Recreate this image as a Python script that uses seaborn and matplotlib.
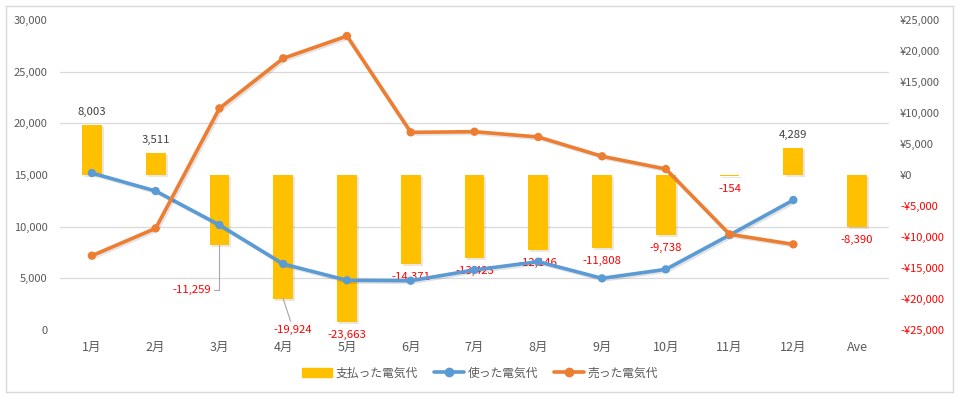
import numpy as np
import pandas as pd
import matplotlib
matplotlib.use('Agg')
import matplotlib.pyplot as plt
import matplotlib.patheffects as pe
from matplotlib.patches import Rectangle, Patch
from matplotlib.lines import Line2D
import seaborn as sns

# chart data
months = ['1月', '2月', '3月', '4月', '5月', '6月', '7月', '8月', '9月', '10月', '11月', '12月', 'Ave']
paid = [8003, 3511, -11259, -19924, -23663, -14371, -13423, -12146, -11808, -9738, -154, 4289, -8390]
used = [15190, 13450, 10160, 6390, 4810, 4770, 5810, 6610, 5000, 5870, 9190, 12580]
sold = [7190, 9840, 21450, 26290, 28450, 19130, 19190, 18680, 16810, 15580, 9260, 8290]
left_ticks = [0, 5000, 10000, 15000, 20000, 25000, 30000]
right_ticks = [-25000, -20000, -15000, -10000, -5000, 0, 5000, 10000, 15000, 20000, 25000]
series_names = ['支払った電気代', '使った電気代', '売った電気代']

BAR_C = '#FFC000'
BLUE = '#5B9BD5'
ORANGE = '#ED7D31'
GREY = '#595959'
RED = '#FF0000'

sns.set_theme(style='white')
plt.rcParams['font.family'] = ['Noto Sans CJK JP', 'DejaVu Sans']

fig = plt.figure(figsize=(9.6, 4), dpi=100)
ax = fig.add_axes([60 / 960, 70 / 400, 829 / 960, 310 / 400])
ax2 = ax.twinx()

# bars (right axis)
bar_df = pd.DataFrame({'month': months, 'paid': paid})
sns.barplot(data=bar_df, x='month', y='paid', ax=ax2, color=BAR_C,
            saturation=1, width=0.31, errorbar=None, linewidth=0)
for p in ax2.patches:
    p.set_path_effects([pe.SimplePatchShadow(offset=(1.5, -1.5), alpha=0.12), pe.Normal()])

# lines (left axis)
line_df = pd.DataFrame({'pos': np.arange(len(used)), 'used': used, 'sold': sold})
shadow = [pe.SimpleLineShadow(offset=(1.2, -1.2), alpha=0.12), pe.Normal()]
sns.lineplot(data=line_df, x='pos', y='used', ax=ax, color=BLUE, lw=2.6,
             marker='o', ms=6, mec=BLUE, mew=0, path_effects=shadow)
sns.lineplot(data=line_df, x='pos', y='sold', ax=ax, color=ORANGE, lw=2.6,
             marker='o', ms=6, mec=ORANGE, mew=0, path_effects=shadow)

ax.set_zorder(2)
ax2.set_zorder(1)
ax.patch.set_visible(False)

ax.set_xlim(-0.5, len(months) - 0.5)
ax.set_ylim(0, 30000)
ax2.set_ylim(-25000, 25000)

# gridlines follow the left axis, drawn behind the bars
ax.grid(False)
ax2.grid(False)
ax2.set_yticks(np.linspace(-25000, 25000, len(left_ticks)), minor=True)
ax2.grid(True, which='minor', axis='y', color='#D9D9D9', lw=0.9)
ax2.set_axisbelow(True)
ax2.tick_params(which='minor', length=0)

ax.set_xticks(range(len(months)), months)
ax.set_yticks(left_ticks, [f'{v:,}' for v in left_ticks])
ax2.set_yticks(right_ticks, [f'¥{v:,}' if v >= 0 else f'-¥{-v:,}' for v in right_ticks])
for t, v in zip(ax2.get_yticklabels(), right_ticks):
    t.set_color(RED if v < 0 else GREY)

ax.tick_params(axis='x', length=0, pad=8, labelsize=9, labelcolor=GREY)
ax.tick_params(axis='y', length=0, pad=9, labelsize=8, labelcolor=GREY)
ax2.tick_params(axis='y', which='major', length=0, pad=8, labelsize=8)
for a in (ax, ax2):
    a.set_xlabel('')
    a.set_ylabel('')
    for s in a.spines.values():
        s.set_visible(False)

# data labels on the bars
special = {2: (-28, -45), 3: (10, -31)}
for i, v in enumerate(paid):
    dx, dy = special.get(i, (0, 13 if v > 0 else -13))
    col = '#404040' if v > 0 else RED
    arrow = None
    if i == 2:
        arrow = dict(arrowstyle='-', color='#A6A6A6', lw=0.8, relpos=(1, 0.5),
                     connectionstyle='angle,angleA=0,angleB=90', shrinkA=0, shrinkB=0)
    elif i == 3:
        arrow = dict(arrowstyle='-', color='#A6A6A6', lw=0.8, shrinkA=0, shrinkB=0)
    ax2.annotate(f'{v:,}', xy=(i, v), xytext=(dx, dy), textcoords='offset pixels',
                 ha='center', va='center', fontsize=8.2, color=col, arrowprops=arrow,
                 zorder=5)

handles = [Patch(color=BAR_C),
           Line2D([], [], color=BLUE, lw=2.6, marker='o', ms=6),
           Line2D([], [], color=ORANGE, lw=2.6, marker='o', ms=6)]
fig.legend(handles, series_names, loc='center', bbox_to_anchor=(0.5, 0.0675), ncol=3,
           frameon=False, fontsize=8.5, handlelength=2.6, handletextpad=0.3,
           columnspacing=1.3, labelcolor=GREY)

fig.add_artist(Rectangle((6 / 960, 8 / 400), 947 / 960, 386 / 400, transform=fig.transFigure,
                         fill=False, ec='#D9D9D9', lw=1))

fig.savefig('out.png', dpi=100, facecolor='white')
